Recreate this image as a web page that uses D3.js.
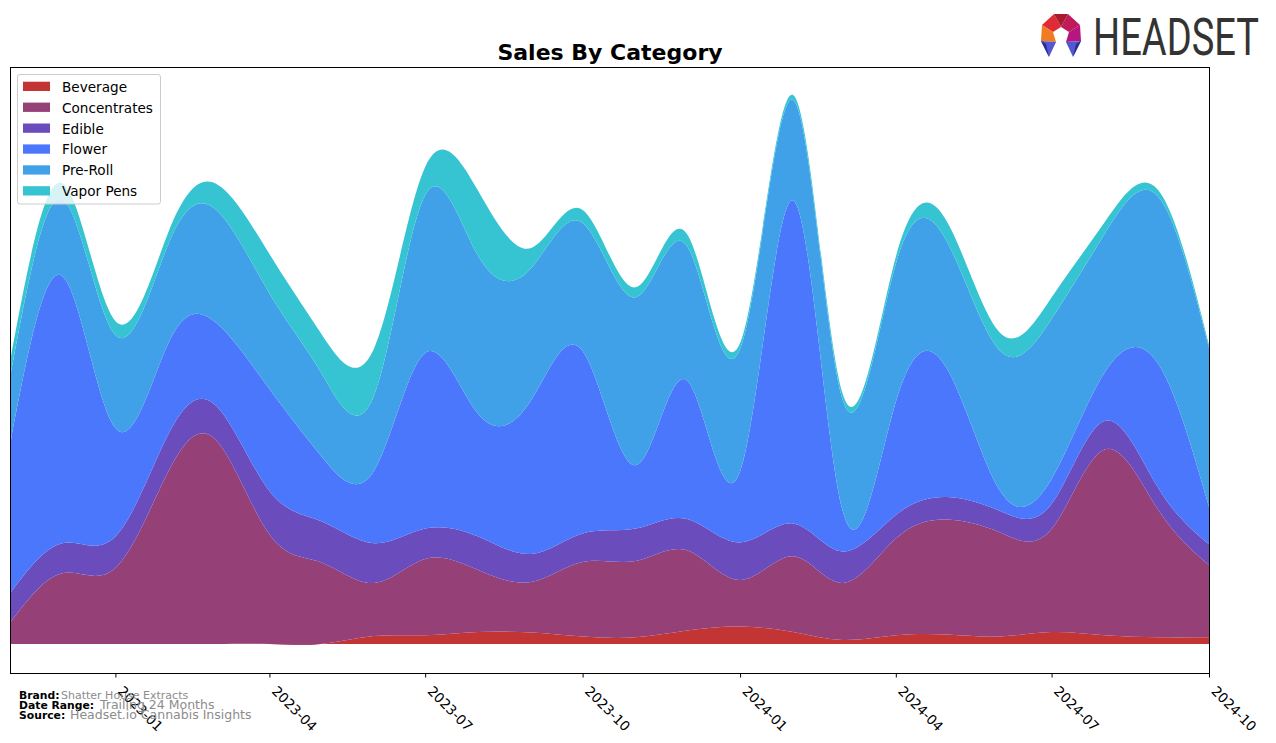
<!DOCTYPE html>
<html><head><meta charset="utf-8">
<script src="https://cdn.jsdelivr.net/npm/d3@7"></script>
<style>body{margin:0;background:#fff} svg{display:block}</style>
</head><body>
<svg id="chart" width="1276" height="743"></svg>
<script>
// ---- data (monthly sales, arbitrary units) ----
const months = ["2022-11","2022-12","2023-01","2023-02","2023-03","2023-04","2023-05","2023-06",
  "2023-07","2023-08","2023-09","2023-10","2023-11","2023-12","2024-01","2024-02","2024-03",
  "2024-04","2024-05","2024-06","2024-07","2024-08","2024-09","2024-10"];
const categories = ["Beverage","Concentrates","Edible","Flower","Pre-Roll","Vapor Pens"];
const beverage     = [0,0,0,0,0,0,0,8,8.7,11.9,11.5,7.5,6.7,13.4,17.4,11.9,4,8.7,9.5,7.5,11.9,8.7,6.7,6.7];
const concentrates = [22.5,70.8,76,172.7,203.6,109.5,81.8,53,76.3,62,50.5,74.5,76.3,80.3,46.6,75.8,57,96.8,115,104,103,185.8,128.3,72];
const edible       = [29.5,30,31.5,37.3,34.4,43.5,41.2,39.8,30.4,33.5,28,28.5,32.4,31.3,37.6,32.8,31.5,23.5,22.5,21.5,25,28.5,22,21];
const flower       = [152,267,108.5,91,83,102,65.5,72,175.6,122.5,154,182.5,63.3,138.6,71,323,40.5,113,128,20,25,48.5,124,37.4];
const preRoll      = [68,77,93,99,113,95.6,83.5,75.3,158,158,132,128,168,134.4,122.3,100.5,111,138,127,140,160,138.5,167,159];
const vaporPens    = [16,16,14,12,26,39.4,39,47,28,65,20,13,10,12,6,5,6,7,20,18,21.6,11.7,6.5,3];
const tickLabels = ["2023-01","2023-04","2023-07","2023-10","2024-01","2024-04","2024-07","2024-10"];
const colors = ["#c33434","#954178","#6b4cbd","#4a77fb","#41a1e8","#36c4d3"];

// ---- layout ----
const svg = d3.select("#chart");
const plot = {left: 11, right: 1209, top: 67, bottom: 673};
const parse = d3.timeParse("%Y-%m");
const series = [beverage, concentrates, edible, flower, preRoll, vaporPens];
const rows = months.map((m, i) => {
  const r = {date: parse(m)};
  categories.forEach((c, j) => r[c] = series[j][i]);
  return r;
});
const x = d3.scaleTime().domain(d3.extent(rows, d => d.date)).range([plot.left, plot.right]);
const y = d3.scaleLinear().domain([-29, 577]).range([plot.bottom, plot.top]);

const stacked = d3.stack().keys(categories)(rows);
const area = d3.area()
  .x(d => x(d.data.date)).y0(d => y(d[0])).y1(d => y(d[1]))
  .curve(d3.curveNatural);

svg.append("clipPath").attr("id","clip").append("rect")
  .attr("x", plot.left).attr("y", plot.top)
  .attr("width", plot.right - plot.left).attr("height", plot.bottom - plot.top);

svg.append("g").attr("clip-path","url(#clip)")
  .selectAll("path").data(stacked).join("path")
  .attr("d", area).attr("fill", (d, i) => colors[i]);

// frame
svg.append("rect").attr("x", plot.left - 0.5).attr("y", plot.top + 0.5)
  .attr("width", plot.right - plot.left + 1).attr("height", plot.bottom - plot.top)
  .attr("fill","none").attr("stroke","#000").attr("stroke-width",1);

// x axis
const xAxis = d3.axisBottom(x).tickValues(tickLabels.map(parse))
  .tickFormat(d3.timeFormat("%Y-%m")).tickSize(4).tickSizeOuter(0);
const gx = svg.append("g").attr("transform", `translate(0,${plot.bottom + 0.5})`).call(xAxis);
gx.select(".domain").remove();
gx.selectAll(".tick line").attr("stroke","#000");
gx.selectAll(".tick text")
  .attr("font-family","DejaVu Sans").attr("font-size",13.6).attr("fill","#000")
  .attr("text-anchor","start").attr("y",0).attr("dy",0)
  .attr("transform","translate(1,18.5) rotate(45)");

// title
svg.append("text").attr("x", (plot.left + plot.right) / 2).attr("y", 60)
  .attr("text-anchor","middle").attr("font-family","DejaVu Sans").attr("font-weight","bold")
  .attr("font-size",22).text("Sales By Category");

// legend
const lg = svg.append("g");
lg.append("rect").attr("x",17.5).attr("y",74.5).attr("width",143).attr("height",129.5)
  .attr("rx",2.5).attr("fill","#fff").attr("fill-opacity",0.8).attr("stroke","#cccccc");
categories.forEach((c, i) => {
  const yy = 81.7 + i * 20.9;
  lg.append("rect").attr("x",23).attr("y",yy).attr("width",27).attr("height",9.3).attr("fill",colors[i]);
  lg.append("text").attr("x",62).attr("y",yy + 10).attr("font-family","DejaVu Sans")
    .attr("font-size",13.6).attr("fill","#000").text(c);
});

// footer
const foot = [
  ["Brand:", "Shatter House Extracts", 698.5, 10.8, 61, 11],
  ["Date Range:", "Trailing 24 Months", 708.5, 10.8, 100, 12.5],
  ["Source:", "Headset.io Cannabis Insights", 718.5, 10.8, 70, 12.5]
];
foot.forEach(f => {
  svg.append("text").attr("x",19).attr("y",f[2]).attr("font-family","DejaVu Sans")
    .attr("font-weight","bold").attr("font-size",f[3]).attr("fill","#000").text(f[0]);
  svg.append("text").attr("x",f[4]).attr("y",f[2]).attr("font-family","DejaVu Sans")
    .attr("font-size",f[5]).attr("fill","#8c8c8c").text(f[1]);
});

// logo
const logo = svg.append("g");
const P = {A:[1054,14],B:[1068,14],C:[1080,25],D:[1081,41],E:[1073,57],F:[1066,42],
  G:[1069,32],H:[1061,27],I:[1053,32],J:[1056,42],K:[1049,57],L:[1041,41],M:[1042,25]};
const polys = [
  [["M","A","H","I"],"#de2b36"],
  [["A","B","H"],"#a81a2c"],
  [["B","C","G","H"],"#c01a5a"],
  [["C","D","F","G"],"#b5177e"],
  [["M","I","J","L"],"#f07b22"],
  [["L","J","K"],"#5457d4"],
  [["D","F","E"],"#5457d4"]
];
polys.forEach(p => logo.append("polygon")
  .attr("points", p[0].map(k => P[k].join(",")).join(" ")).attr("fill", p[1]));
logo.append("polygon").attr("points","1041,41 1049,57 1046,44").attr("fill","#2c2d8a");
logo.append("polygon").attr("points","1081,41 1073,57 1076,44").attr("fill","#2c2d8a");
svg.append("text").attr("x",1093).attr("y",55).attr("font-family","Liberation Sans Narrow, Roboto, sans-serif")
  .attr("font-size",52).attr("fill","#333").attr("textLength",166).attr("lengthAdjust","spacingAndGlyphs")
  .text("HEADSET");
</script>
</body></html>
